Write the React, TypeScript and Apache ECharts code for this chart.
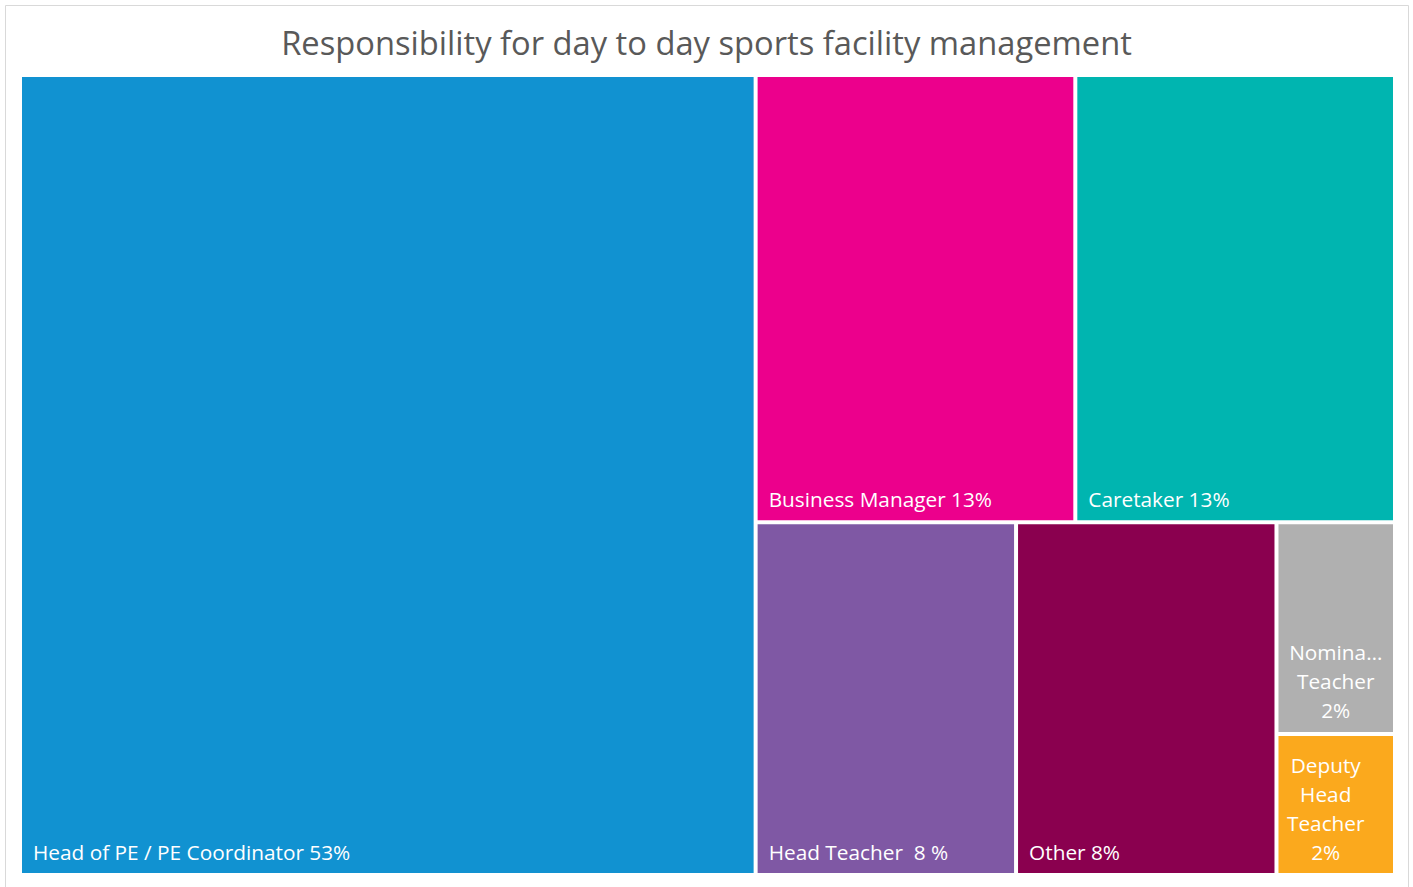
import React, { useEffect, useRef } from "react";
import * as echarts from "echarts";

const titleText = "Responsibility for day to day sports facility management";
const categories = [
  "Head of PE / PE Coordinator 53%",
  "Business Manager 13%",
  "Caretaker 13%",
  "Head Teacher  8 %",
  "Other 8%",
  "Nomina…\nTeacher\n2%",
  "Deputy\nHead\nTeacher\n2%",
];
const values = [53.5, 13, 13, 8.35, 8.35, 2.28, 1.52];
const colors = ["#1192D1", "#EC008C", "#00B5B0", "#7F58A4", "#8A004F", "#B0B0B0", "#FBA91D"];
// small cells: label lines centred in a block
const centredLabel = [false, false, false, false, false, true, true];
const labelShiftX = [0, 0, 0, 0, 0, 0, -10];

const FONT = "'Open Sans', sans-serif";

export default function App() {
  const ref = useRef<HTMLDivElement>(null);
  useEffect(() => {
    document.body.style.margin = "0";
    const chart = echarts.init(ref.current!, null, { renderer: "svg" });
    const data = categories.map((name, i) => ({
      name,
      value: values[i],
      itemStyle: { color: colors[i] },
      label: centredLabel[i]
        ? {
            position: ["50%", "100%"],
            align: "center",
            verticalAlign: "bottom",
            padding: [0, 0, 7, 0],
            offset: [labelShiftX[i], 0],
          }
        : undefined,
    }));
    chart.setOption({
      animation: false,
      backgroundColor: "#fff",
      title: {
        text: titleText,
        left: "center",
        top: 22,
        padding: 0,
        textStyle: {
          fontSize: 32.7,
          lineHeight: 40,
          color: "#595959",
          fontWeight: "normal",
          fontFamily: FONT,
        },
      },
      graphic: [
        {
          type: "rect",
          shape: { x: 5.5, y: 5.5, width: 1403, height: 900 },
          style: { fill: "none", stroke: "#D9D9D9", lineWidth: 1 },
          silent: true,
        },
      ],
      series: [
        {
          type: "treemap",
          left: 22,
          top: 77,
          width: 1371,
          height: 796,
          roam: false,
          nodeClick: false,
          sort: false,
          squareRatio: 1,
          breadcrumb: { show: false },
          itemStyle: { borderWidth: 0, gapWidth: 0, borderColor: "#fff" },
          levels: [
            { itemStyle: { borderWidth: 0, gapWidth: 4, borderColor: "#fff" } },
            { itemStyle: { borderWidth: 0, gapWidth: 0 } },
          ],
          label: {
            show: true,
            position: "insideBottomLeft",
            distance: 0,
            align: "left",
            verticalAlign: "bottom",
            padding: [0, 0, 7, 11],
            color: "#fff",
            fontSize: 20.8,
            lineHeight: 29,
            fontFamily: FONT,
            formatter: "{b}",
          },
          upperLabel: { show: false },
          emphasis: { disabled: true },
          data,
        },
      ],
    });
    return () => chart.dispose();
  }, []);
  return <div ref={ref} style={{ width: 1413, height: 887 }} />;
}
